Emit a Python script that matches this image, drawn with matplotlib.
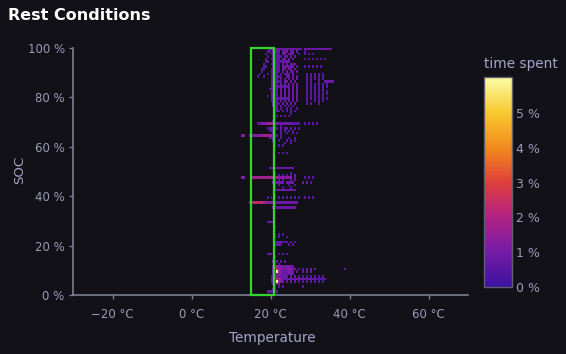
import numpy as np
import matplotlib
matplotlib.use("Agg")
import matplotlib.pyplot as plt
from matplotlib.colors import LinearSegmentedColormap
from matplotlib.patches import Rectangle

# ---------------- data ----------------
# heat-map bins: temperature columns start at 12 °C, 0.5 °C wide; SOC rows 1 % tall
T_START = 12.0
T_STEP = 0.5
N_T = 56
N_SOC = 100
# character -> time spent (%)
LEVELS = {'1': 0.3, '2': 0.5, '3': 0.8, '4': 1.2, '5': 1.7,
          '6': 2.3, '7': 3.5, '8': 4.8, '9': 5.9}
# SOC row -> cells (groups of 8 columns = 4 °C each, '.' = no time spent)
ROWS = {
    99: "........ .......3 34443333 33333332 .3333333 3333333. ........",
    98: "........ ......22 .3433.33 3.33.3.. .2...... ........ ........",
    97: "........ .....2.. 23322.33 .333..2. .2.2.2.. ........ ........",
    96: "........ ......2. .23332.3 3.3.3... ........ ........ ........",
    95: "........ .....2.. 22333.33 .3.3.... .2.2.2.2 .2.2.... ........",
    94: "........ .....22. .2332233 33...... ........ ........ ........",
    93: "........ ....2... 22232.3. 3.333... ........ ........ ........",
    92: "........ ....22.. .2332.33 3333.2.. .2.2.2.2 .2...... ........",
    91: "........ ...22... 23333.33 .33.3... ........ ........ ........",
    90: "........ ...2.... 22322.3. 3.33.3.. ........ ........ ........",
    89: "........ ..2...2. 2333.2.3 33.3.... ..2.2.2. 2.2..... ........",
    88: "........ .2..2... 223322.. 33.3.3.. ..2.2.2. 2.2..... ........",
    87: "........ ........ 2333.2.3 .3.3.3.. ..2.2.2. 2.2..... ........",
    86: "........ ........ 233322.3 3.3.3... ..2.2... 2..33333 ........",
    85: "........ ........ 3333.3.3 .3.3.3.. ..2.2.2. 2.2.2... ........",
    84: "........ ........ 23332323 23.3.3.. ..2.2.2. 2.2.2... ........",
    83: "........ .......2 3333.3.3 .3.3.3.. ..2.2.2. 2.2..... ........",
    82: "........ ........ 2332.3.3 .3.3.3.. ..2.2.2. 2.2.2... ........",
    81: "........ ........ 3333.3.3 .3.3.3.. ..2.2.2. 2.2.2... ........",
    80: "........ ......2. 2333.3.3 .3.3.3.. ..2.2.2. 2.2..... ........",
    79: "........ ........ 23332323 23.3.3.. ..2.2.2. 2.2.2... ........",
    78: "........ ........ 2333.3.3 .3.3.3.. ..2...2. 2.2..... ........",
    77: "........ ........ .3332.3. 3.3.3... ..2.2... 2....... ........",
    76: "........ ........ .333.2.2 .2.2.... ........ ........ ........",
    75: "........ ........ ..33.2.. 2.2..2.. ........ ........ ........",
    74: "........ ........ ..332.2. 2.2.2... ........ ........ ........",
    73: "........ ........ ..3..... ..2..... ........ ........ ........",
    72: "........ ........ ..32.2.2 .2...... ........ ........ ........",
    71: "........ ........ ..3..... ........ ........ ........ ........",
    70: "........ ........ .22..... ........ ........ ........ ........",
    69: "........ .2344455 55443333 3332222. .2.2.2.2 ........ ........",
    68: "........ ........ ..3..2.. ........ ........ ........ ........",
    67: "........ ......22 3332.3.3 2.2.2.2. ........ ........ ........",
    66: "........ .......2 233..2.2 .2.2.... ........ ........ ........",
    65: "........ ........ .32..2.. 2..2.2.. ........ ........ ........",
    64: ".44..444 44455555 5322.2.. ........ ........ ........ ........",
    63: "........ .......2 233..2.. .2..2... ........ ........ ........",
    62: "........ ........ .22.2... 2.2.2... ........ ........ ........",
    61: "........ ........ ..3....2 ..2..... ........ ........ ........",
    60: "........ ........ ..2.2.2. ........ ........ ........ ........",
    57: "........ ........ ....2.2. 2....... ........ ........ ........",
    51: "........ .......3 33333333 3333.... ........ ........ ........",
    49: "........ ........ ..2..... ..2..... ........ ........ ........",
    48: "........ ........ ..3.2.2. 2.2.3... ........ ........ ........",
    47: ".44...55 55555555 55554444 444.3... .2.2.2.. ........ ........",
    46: "........ ........ ..3.2.2. ..2.3... ........ ........ ........",
    45: "........ ........ .333333. 3333.... 3.3.2... ........ ........",
    44: "........ ........ ..2.2... .2..3... ........ ........ ........",
    43: "........ ........ ..3...2. ..2..... ........ ........ ........",
    42: "........ ........ ..333333 33333... ........ ........ ........",
    40: "........ ........ ..2..... ........ ........ ........ ........",
    39: "........ ......2. 2.2.2.2. 2.2.2.2. .2.2.2.. ........ ........",
    37: ".....456 66665544 44433333 333333.. ........ ........ ........",
    36: "........ ........ ..3..... ........ ........ ........ ........",
    35: "........ ........ .3333333 33333... ........ ........ ........",
    29: "........ ......33 33...... ........ ........ ........ ........",
    27: "........ ........ ..2..... ........ ........ ........ ........",
    24: "........ ........ ..2.2.2. ........ ........ ........ ........",
    23: "........ ........ ..3.2... 2....... ........ ........ ........",
    21: "........ ........ ..333322 2.2.2... ........ ........ ........",
    20: "........ ........ ..3332.. .2.2.... ........ ........ ........",
    16: "........ ......33 3...2.2. 2....... ........ ........ ........",
    15: "........ ........ ..2..... ........ ........ ........ ........",
    13: "........ ........ .333.2.2 ........ ........ ........ ........",
    12: "........ ........ ..3.2... ........ ........ ........ ........",
    11: "........ ........ .3554443 4433.... ........ ........ ........",
    10: "........ ........ .3465443 44433.2. 2.3.3.3. ........ .....3..",
    9:  "........ ........ .3495433 3443.3.. 3.3.3... ........ ........",
    8:  "........ ........ .3444433 3333.... ........ ........ ........",
    7:  "........ ........ 23444333 3.3.3.2. 2.2.2.2. 2.2..... ........",
    6:  "........ ........ 33465433 33333333 33333332 2222.... ........",
    5:  "........ ........ 3349543. 3.3.3.2. 2.2.2.2. 2.2..... ........",
    4:  "........ ........ .3433... ........ ........ ........ ........",
    3:  "........ ........ ..3.2.2. ........ 2....... ........ ........",
    2:  "........ ........ .33..... ........ ........ ........ ........",
    1:  "........ ......33 3333.... ........ ........ ........ ........",
}
VMAX = 6.04
BOX_TEMP = (15, 21)
BOX_SOC = (0, 100)
X_LIM = (-30, 70)
Y_LIM = (0, 100)
X_TICKS = [-20, 0, 20, 40, 60]
X_LABELS = ["\u221220 \u00b0C", "0 \u00b0C", "20 \u00b0C", "40 \u00b0C", "60 \u00b0C"]
Y_TICKS = [0, 20, 40, 60, 80, 100]
Y_LABELS = ["0 %", "20 %", "40 %", "60 %", "80 %", "100 %"]
CB_TICKS = [0, 1, 2, 3, 4, 5]
CB_LABELS = ["0 %", "1 %", "2 %", "3 %", "4 %", "5 %"]
TITLE = "Rest Conditions"
X_TITLE = "Temperature"
Y_TITLE = "SOC"
CB_TITLE = "time spent"

# ---------------- build grid ----------------
Z = np.full((N_SOC, N_T), np.nan)
for soc, row in ROWS.items():
    cells = row.replace(" ", "")
    for i, ch in enumerate(cells[:N_T]):
        if ch in LEVELS:
            Z[soc, i] = LEVELS[ch]
x_edges = T_START + T_STEP * np.arange(N_T + 1)
y_edges = np.arange(N_SOC + 1, dtype=float)

# ---------------- style ----------------
BG = "#131118"
TXT = "#9a9ab8"
SPINE = "#7c7c92"
cmap = LinearSegmentedColormap.from_list(
    "timespent",
    [(0.0, "#3c12a0"), (0.18, "#7a1ca6"), (0.35, "#b8247e"),
     (0.5, "#e0403a"), (0.66, "#f2881e"), (0.83, "#f8c82e"), (1.0, "#fbfca8")])

W, H = 566, 354
fig = plt.figure(figsize=(W / 100, H / 100), dpi=100, facecolor=BG)
ax = fig.add_axes([73 / W, 1 - 295 / H, (468 - 73) / W, (295 - 48) / H])
ax.set_facecolor(BG)

mesh = ax.pcolormesh(x_edges, y_edges, np.ma.masked_invalid(Z), cmap=cmap,
                     vmin=0, vmax=VMAX, shading="flat", antialiased=False,
                     zorder=2)
ax.add_patch(Rectangle((BOX_TEMP[0], BOX_SOC[0]), BOX_TEMP[1] - BOX_TEMP[0],
                       BOX_SOC[1] - BOX_SOC[0], fill=False,
                       edgecolor="#36d42e", linewidth=1.6, zorder=3,
                       clip_on=False))

ax.set_xlim(*X_LIM)
ax.set_ylim(*Y_LIM)
ax.set_xticks(X_TICKS, labels=X_LABELS)
ax.set_yticks(Y_TICKS, labels=Y_LABELS)
for s in ["top", "right"]:
    ax.spines[s].set_visible(False)
for s in ["left", "bottom"]:
    ax.spines[s].set_color(SPINE)
    ax.spines[s].set_linewidth(1.2)
ax.tick_params(axis="x", length=3, width=1, color=SPINE, labelcolor=TXT,
               labelsize=8.5, pad=6)
ax.tick_params(axis="y", length=3, width=1, color=SPINE, labelcolor=TXT,
               labelsize=8.5, pad=3)

fig.text(8 / W, 1 - 15 / H, TITLE, ha="left", va="center", fontsize=11.5,
         fontweight="bold", color="white")
fig.text(272 / W, 1 - 338 / H, X_TITLE, ha="center", va="center",
         fontsize=9.8, color="#a4a4c8")
fig.text(20 / W, 1 - 170 / H, Y_TITLE, ha="center", va="center",
         rotation=90, fontsize=9.5, color="#a4a4c8")

cax = fig.add_axes([484 / W, 1 - 287 / H, 28 / W, 210 / H])
cb = fig.colorbar(mesh, cax=cax)
cb.set_ticks(CB_TICKS, labels=CB_LABELS)
cb.outline.set_edgecolor("#5e5e6e")
cb.outline.set_linewidth(1.0)
cax.tick_params(length=0, pad=3, labelsize=9, labelcolor=TXT)
fig.text(521 / W, 1 - 64 / H, CB_TITLE, ha="center", va="center",
         fontsize=9.8, color="#a4a4c8")

fig.savefig("out.png", dpi=100, facecolor=BG)
